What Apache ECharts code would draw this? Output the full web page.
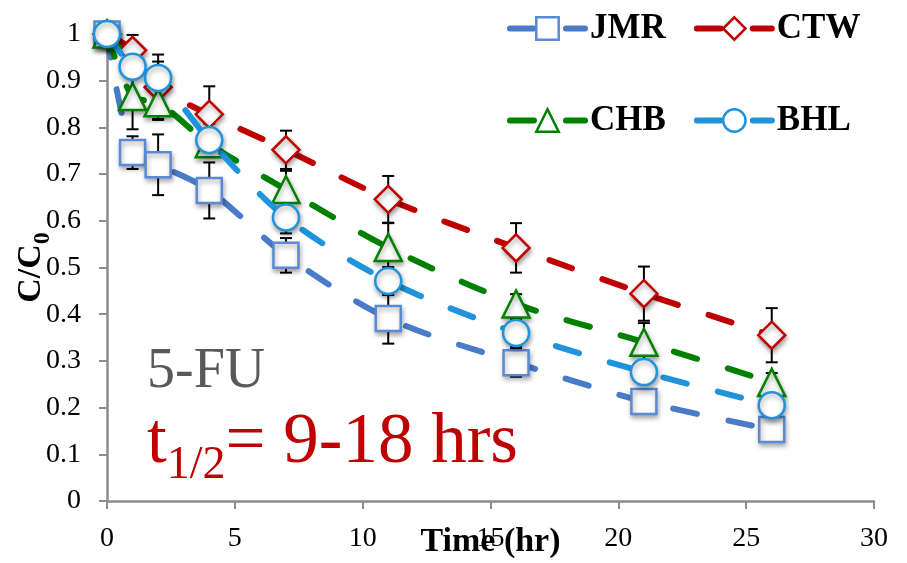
<!DOCTYPE html>
<html>
<head>
<meta charset="utf-8" />
<script src="https://cdn.jsdelivr.net/npm/echarts@6/dist/echarts.min.js"></script>
<style>
  html, body { margin: 0; padding: 0; background: #fff; }
  #chart { width: 907px; height: 563px; }
</style>
</head>
<body>
<div id="chart"></div>
<script>
// sampling times (hr)
const timeHr = [0, 1, 2, 4, 7, 11, 16, 21, 26]

// C/C0 per site, with error bar half-widths
const jmr = [1.0, 0.746, 0.72, 0.665, 0.526, 0.391, 0.296, 0.213, 0.153]
const jmrErr = [0, 0.035, 0.065, 0.06, 0.037, 0.054, 0.03, 0.02, 0.015]
const ctw = [1.0, 0.965, 0.886, 0.828, 0.752, 0.646, 0.542, 0.444, 0.355]
const ctwErr = [0, 0.033, 0.07, 0.06, 0.041, 0.05, 0.053, 0.058, 0.058]
const chb = [1.0, 0.866, 0.853, 0.765, 0.667, 0.543, 0.422, 0.34, 0.254]
const chbErr = [0, 0.07, 0.035, 0.028, 0.04, 0.052, 0.021, 0.041, 0.02]
const bhl = [1.0, 0.93, 0.906, 0.773, 0.607, 0.471, 0.36, 0.276, 0.205]
const bhlErr = [0, 0.02, 0.035, 0.035, 0.034, 0.03, 0.03, 0.02, 0.015]

const sites = [
  { name: 'JMR', vals: jmr, errs: jmrErr, line: '#4a7bc9', edge: '#5a8ad5', symbol: 'rect', size: 25 },
  { name: 'CTW', vals: ctw, errs: ctwErr, line: '#c00000', edge: '#c00000', symbol: 'diamond', size: 27 },
  { name: 'CHB', vals: chb, errs: chbErr, line: '#008000', edge: '#008000', symbol: 'triangle', size: 27 },
  { name: 'BHL', vals: bhl, errs: bhlErr, line: '#1f93dc', edge: '#1f93dc', symbol: 'circle', size: 26 },
]

const serif = '"Liberation Serif", "DejaVu Serif", serif'
const axisGrey = '#8c8c8c'

const chart = echarts.init(document.getElementById('chart'))

// error bars: vertical whisker + caps
const renderErr = (params, api) => {
  const x = api.value(0), y = api.value(1), e = api.value(2)
  if (!e) return
  const top = api.coord([x, y + e])
  const bot = api.coord([x, y - e])
  const s = { stroke: '#000', lineWidth: 2 }
  return {
    type: 'group',
    children: [
      { type: 'line', shape: { x1: top[0], y1: top[1], x2: bot[0], y2: bot[1] }, style: s },
      { type: 'line', shape: { x1: top[0] - 6, y1: top[1], x2: top[0] + 6, y2: top[1] }, style: s },
      { type: 'line', shape: { x1: bot[0] - 6, y1: bot[1], x2: bot[0] + 6, y2: bot[1] }, style: s },
    ],
  }
}

const errSeries = sites.map(s => ({
  type: 'custom',
  name: s.name + '-err',
  z: 1,
  silent: true,
  renderItem: renderErr,
  data: timeHr.map((t, i) => [t, s.vals[i], s.errs[i]]),
}))

const lineSeries = sites.map((s, i) => ({
  type: 'line',
  name: s.name,
  z: 2 + i,
  smooth: 0.3,
  data: timeHr.map((t, k) => [t, s.vals[k]]),
  symbol: s.symbol,
  symbolSize: s.size,
  showAllSymbol: true,
  lineStyle: { color: s.line, width: 6, type: [24, 32], cap: 'round' },
  itemStyle: {
    color: '#fff',
    borderColor: s.edge,
    borderWidth: 2.5,
    shadowBlur: 5,
    shadowColor: 'rgba(0,0,0,0.35)',
    shadowOffsetX: 1,
    shadowOffsetY: 3,
  },
  emphasis: { disabled: true },
}))

const legendBase = {
  left: 502,
  itemWidth: 75,
  itemHeight: 28,
  itemGap: 28,
  itemTextGap: 2,
  lineStyle: { width: 6, cap: 'round' },
  itemStyle: { shadowBlur: 0, shadowOffsetX: 0, shadowOffsetY: 0, borderWidth: 2.5 },
  textStyle: { fontFamily: serif, fontWeight: 'bold', fontSize: 35, color: '#000' },
  selectedMode: false,
}

chart.setOption({
  animation: false,
  grid: { left: 107, right: 33, top: 34, bottom: 62, outerBoundsMode: 'none', containLabel: false },
  legend: [
    { ...legendBase, top: 6, data: ['JMR', 'CTW'] },
    { ...legendBase, top: 98, data: ['CHB', 'BHL'] },
  ],
  xAxis: {
    type: 'value',
    min: 0,
    max: 30,
    interval: 5,
    name: 'Time (hr)',
    nameLocation: 'middle',
    nameGap: 24,
    nameMoveOverlap: false,
    nameTextStyle: { fontFamily: serif, fontWeight: 'bold', fontSize: 34, color: '#000' },
    axisLine: { lineStyle: { color: axisGrey, width: 2.5 } },
    axisTick: { length: 8, lineStyle: { color: axisGrey, width: 2 } },
    axisLabel: { margin: 24, fontFamily: serif, fontSize: 28, color: '#000' },
    splitLine: { show: false },
  },
  yAxis: {
    type: 'value',
    min: 0,
    max: 1,
    interval: 0.1,
    name: '{a|C/C}{b|0}',
    nameLocation: 'middle',
    nameGap: 52,
    nameMoveOverlap: false,
    nameTextStyle: {
      rich: {
        a: { fontFamily: serif, fontWeight: 'bold', fontSize: 34, color: '#000', lineHeight: 36, padding: [0, 0, 12, 0] },
        b: { fontFamily: serif, fontWeight: 'bold', fontSize: 24, color: '#000', lineHeight: 24, verticalAlign: 'bottom' },
      },
    },
    axisLine: { show: true, lineStyle: { color: axisGrey, width: 2.5 } },
    axisTick: { show: true, length: 8, lineStyle: { color: axisGrey, width: 2 } },
    axisLabel: { margin: 26, fontFamily: serif, fontSize: 28, color: '#000' },
    splitLine: { show: false },
  },
  graphic: [
    {
      type: 'text',
      left: 147,
      top: 344,
      style: { text: '5-FU', fontFamily: serif, fontSize: 56, fill: '#595959' },
    },
    {
      type: 'text',
      left: 147,
      top: 408,
      style: {
        text: '{m|t}{s|1/2}{m|= 9-18 hrs}',
        rich: {
          m: { fontFamily: serif, fontSize: 71, fill: '#c00000', lineHeight: 72, padding: [0, 0, 18, 0] },
          s: { fontFamily: serif, fontSize: 46, fill: '#c00000', lineHeight: 46, verticalAlign: 'bottom' },
        },
      },
    },
  ],
  series: [...errSeries, ...lineSeries],
})
</script>
</body>
</html>
